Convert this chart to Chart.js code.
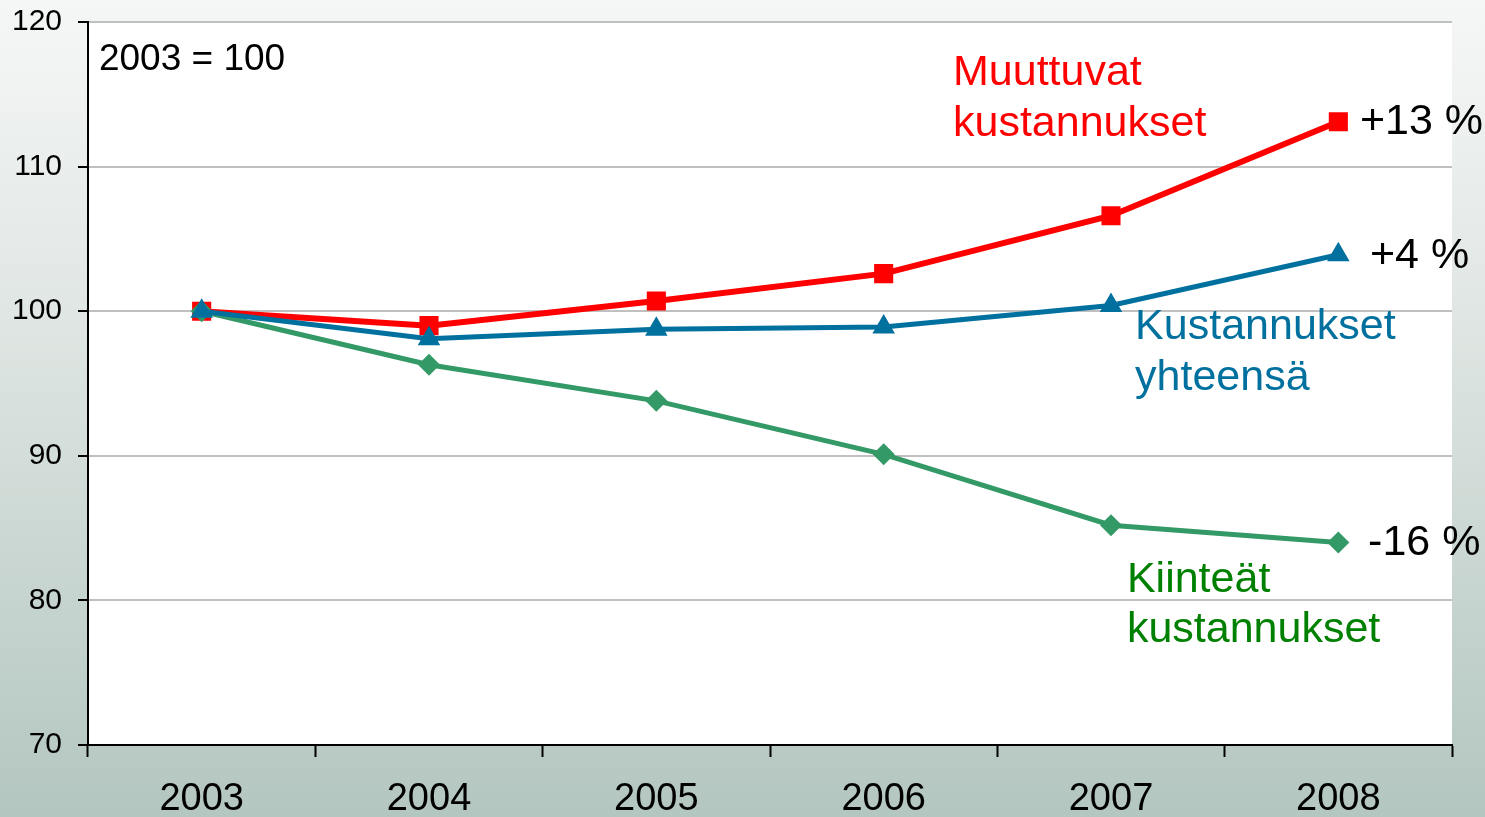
<!DOCTYPE html>
<html>
<head>
<meta charset="utf-8">
<script src="https://cdn.jsdelivr.net/npm/chart.js@4/dist/chart.umd.min.js"></script>
<style>
  html, body { margin: 0; padding: 0; }
  #wrap { width: 1485px; height: 817px; }
</style>
</head>
<body>
<div id="wrap"><canvas id="kustannukset"></canvas></div>
<script>
const vuodet = ["2003", "2004", "2005", "2006", "2007", "2008"];

const muuttuvat = [100, 99.0, 100.7, 102.6, 106.6, 113.1];
const yhteensa = [100, 98.1, 98.75, 98.9, 100.4, 103.9];
const kiinteat = [100, 96.3, 93.8, 90.1, 85.2, 84.0];

const yTicks = [70, 80, 90, 100, 110, 120];

// tekstit: [teksti, x (luokka-indeksi), y (arvo), väri, koko]
const tekstit = [
    ["2003 = 100", -0.452, 117.37, "#000000", 37],
    ["Muuttuvat", 3.305, 116.47, "#ff0000", 43],
    ["kustannukset", 3.305, 112.95, "#ff0000", 43],
    ["+13 %", 5.095, 113.1, "#000000", 43],
    ["+4 %", 5.139, 103.82, "#000000", 43],
    ["Kustannukset", 4.106, 98.91, "#00709f", 43],
    ["yhteensä", 4.106, 95.38, "#00709f", 43],
    ["-16 %", 5.131, 83.97, "#000000", 43],
    ["Kiinteät", 4.070, 81.41, "#008000", 43],
    ["kustannukset", 4.070, 77.95, "#008000", 43],
];

const fontti = "'Liberation Sans', Arial, sans-serif";

const tausta = {
    id: 'tausta',
    beforeDraw(chart) {
        const ctx = chart.ctx;
        const a = chart.chartArea;
        const g = ctx.createLinearGradient(0, 0, 0, chart.height);
        g.addColorStop(0, "#f5f7f6");
        g.addColorStop(0.35, "#e2e8e5");
        g.addColorStop(1, "#b3c6bf");
        ctx.save();
        ctx.fillStyle = g;
        ctx.fillRect(0, 0, chart.width, chart.height);
        ctx.fillStyle = "#ffffff";
        ctx.fillRect(a.left, a.top, a.right - a.left, a.bottom - a.top);
        ctx.restore();
    }
};

const merkinnat = {
    id: 'merkinnat',
    afterDraw(chart) {
        const ctx = chart.ctx;
        const xs = chart.scales.x;
        const ys = chart.scales.y;
        ctx.save();
        ctx.textAlign = "left";
        ctx.textBaseline = "middle";
        tekstit.forEach(t => {
            ctx.font = t[4] + "px " + fontti;
            ctx.fillStyle = t[3];
            ctx.fillText(t[0], xs.getPixelForValue(t[1]), ys.getPixelForValue(t[2]));
        });
        ctx.restore();
    }
};

new Chart(document.getElementById('kustannukset'), {
    type: 'line',
    data: {
        labels: vuodet,
        datasets: [
            {
                label: "Muuttuvat kustannukset",
                data: muuttuvat,
                borderColor: "#ff0000",
                backgroundColor: "#ff0000",
                borderWidth: 6,
                pointStyle: 'rect',
                pointRadius: 13.5,
                pointBorderWidth: 0,
                order: 3,
            },
            {
                label: "Kiinteät kustannukset",
                data: kiinteat,
                borderColor: "#339966",
                backgroundColor: "#339966",
                borderWidth: 5,
                pointStyle: 'rectRot',
                pointRadius: 11,
                pointBorderWidth: 0,
                order: 2,
            },
            {
                label: "Kustannukset yhteensä",
                data: yhteensa,
                borderColor: "#00709f",
                backgroundColor: "#00709f",
                borderWidth: 5,
                pointStyle: 'triangle',
                pointRadius: 13,
                pointBorderWidth: 0,
                order: 1,
            },
        ]
    },
    options: {
        responsive: true,
        maintainAspectRatio: false,
        animation: false,
        layout: { padding: { top: 22, right: 33, left: 0, bottom: 0 } },
        plugins: {
            legend: { display: false },
            tooltip: { enabled: false },
        },
        elements: { line: { tension: 0 } },
        scales: {
            x: {
                offset: true,
                grid: {
                    offset: true,
                    drawOnChartArea: false,
                    tickColor: "#000000",
                    tickLength: 12,
                    tickWidth: 2,
                },
                border: { display: true, color: "#000000", width: 2 },
                ticks: {
                    color: "#000000",
                    font: { family: fontti, size: 38 },
                    padding: 20,
                    maxRotation: 0,
                },
                afterFit(scale) {
                    scale.height = 72;
                    scale.paddingLeft = 0;
                    scale.paddingRight = 0;
                },
            },
            y: {
                min: 70,
                max: 120,
                afterBuildTicks(scale) { scale.ticks = yTicks.map(v => ({ value: v })); },
                grid: {
                    color: "#c0c0c0",
                    lineWidth: 2,
                    tickColor: "#000000",
                    tickLength: 10,
                    tickWidth: 2,
                },
                border: { display: true, color: "#000000", width: 2 },
                ticks: {
                    color: "#000000",
                    font: { family: fontti, size: 30 },
                    padding: 16,
                },
                afterFit(scale) {
                    scale.width = 88;
                    scale.paddingTop = 0;
                    scale.paddingBottom = 0;
                },
            }
        }
    },
    plugins: [tausta, merkinnat]
});
</script>
</body>
</html>
